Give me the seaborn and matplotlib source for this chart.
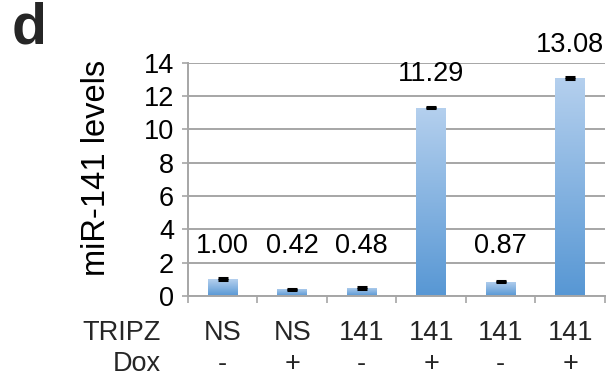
import numpy as np
import pandas as pd
import matplotlib
matplotlib.use("Agg")
import matplotlib.pyplot as plt
from matplotlib.colors import LinearSegmentedColormap
import seaborn as sns

# Data
tripz = ["NS", "NS", "141", "141", "141", "141"]
dox = ["-", "+", "-", "+", "-", "+"]
levels = [1.00, 0.42, 0.48, 11.29, 0.87, 13.08]
errors = [0.06, 0.03, 0.04, 0.04, 0.05, 0.04]
yticks = [0, 2, 4, 6, 8, 10, 12, 14]

groups = [f"{t} {d} {i}" for i, (t, d) in enumerate(zip(tripz, dox))]
df = pd.DataFrame({"group": groups, "level": levels})

sns.set_theme(style="white")
plt.rcParams["font.family"] = ["Liberation Sans", "DejaVu Sans"]
FS = 19.5

fig = plt.figure(figsize=(6.07, 3.84), dpi=100)
ax = fig.add_axes([0.3097, 0.229, 0.687, 0.608])

sns.barplot(data=df, x="group", y="level", order=groups, width=0.43,
            color="#7aa9dd", errorbar=None, ax=ax, zorder=2)

# Vertical gradient fill for each bar
cmap = LinearSegmentedColormap.from_list("barblue", ["#5797d4", "#b5d0ee"])
grad = np.linspace(0, 1, 256).reshape(-1, 1)
for patch in list(ax.patches):
    x0, y0 = patch.get_x(), patch.get_y()
    w, h = patch.get_width(), patch.get_height()
    im = ax.imshow(grad, extent=[x0, x0 + w, y0, y0 + h], origin="lower",
                   aspect="auto", cmap=cmap, zorder=2.1, interpolation="bilinear")
    im.set_clip_path(patch)
    patch.set_facecolor("none")
    patch.set_edgecolor("none")

xs = np.arange(len(levels))
ax.errorbar(xs, levels, yerr=errors, fmt="none", ecolor="black",
            elinewidth=1.5, capsize=3.5, capthick=2.2, zorder=3)

ax.set_xlim(-0.5, len(levels) - 0.5)
ax.set_ylim(0, 14)
ax.set_aspect("auto")

# Axes styling
grid_col = "#a6a6a6"
ax.set_yticks(yticks)
ax.set_yticklabels([str(v) for v in yticks], fontsize=FS)
ax.yaxis.grid(True, color=grid_col, linewidth=1.4)
ax.set_axisbelow(True)
ax.set_xticks(np.arange(-0.5, len(levels), 1.0))
ax.set_xticklabels([])
ax.tick_params(axis="x", length=5, width=1.2, color=grid_col, bottom=True, direction="out")
ax.tick_params(axis="y", length=4, width=1.2, color=grid_col, left=True, direction="out",
               pad=6, labelcolor="black")
for side in ["top", "right"]:
    ax.spines[side].set_visible(False)
for side in ["left", "bottom"]:
    ax.spines[side].set_color(grid_col)
    ax.spines[side].set_linewidth(1.4)

ax.set_xlabel("")
ax.set_ylabel("miR-141 levels", fontsize=23.5, color="black")
ax.yaxis.set_label_coords(-0.182, 0.55)

# Value labels above bars
for x, v in zip(xs, levels):
    ax.text(x, max(v, 1.0) + 2.0, f"{v:.2f}", ha="center", va="center",
            fontsize=FS, color="black")

# Category rows under the axis
trans = ax.get_xaxis_transform()
for x, t, d in zip(xs, tripz, dox):
    ax.text(x, -0.159, t, transform=trans, ha="center", va="center", fontsize=FS)
    ax.text(x, -0.291, d, transform=trans, ha="center", va="center", fontsize=FS)
fig.text(161 / 607, 1 - 333 / 384, "TRIPZ", ha="right", va="center", fontsize=FS)
fig.text(161 / 607, 1 - 364 / 384, "Dox", ha="right", va="center", fontsize=FS)

# Panel letter
fig.text(12 / 607, 1 - 28 / 384, "d", ha="left", va="center", fontsize=41,
         fontweight="bold")

fig.savefig("out.png", dpi=100)
